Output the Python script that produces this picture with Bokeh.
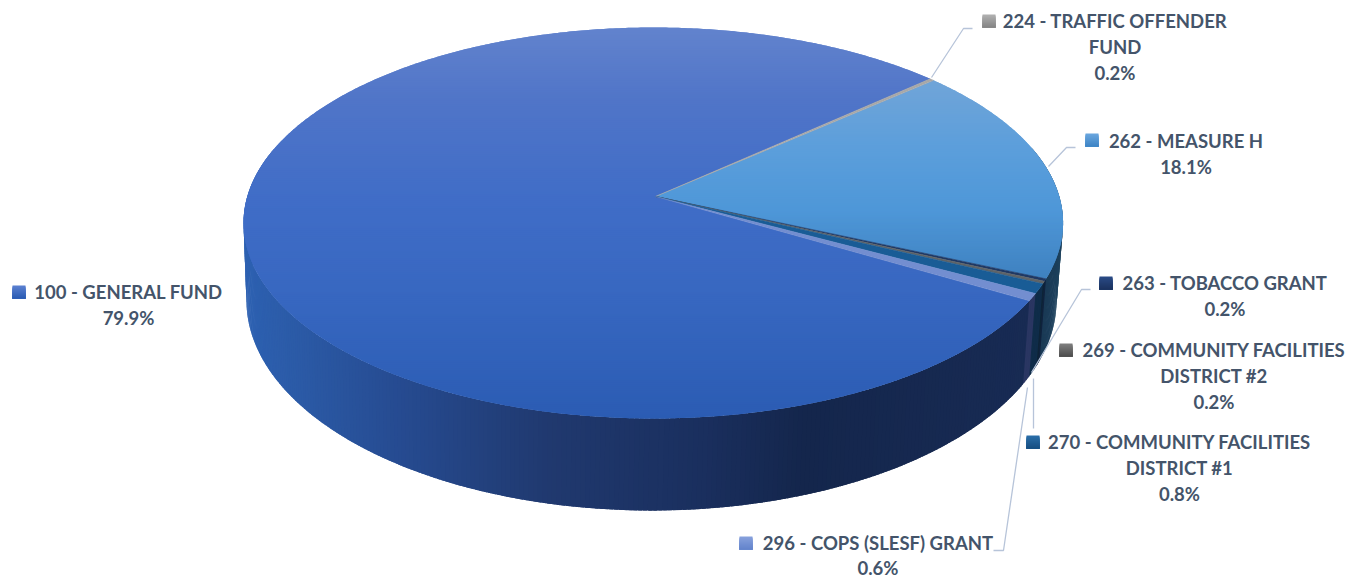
import numpy as np
from bokeh.plotting import figure
from bokeh.models import Range1d, ColumnDataSource
from bokeh.core.properties import value
from bokeh.embed import file_html
from bokeh.resources import INLINE

# ---- data -------------------------------------------------------------
categories = ["100 - GENERAL FUND", "224 - TRAFFIC OFFENDER FUND", "262 - MEASURE H",
              "263 - TOBACCO GRANT", "269 - COMMUNITY FACILITIES DISTRICT #2",
              "270 - COMMUNITY FACILITIES DISTRICT #1", "296 - COPS (SLESF) GRANT"]
shares = [79.9, 0.2, 18.1, 0.2, 0.2, 0.8, 0.6]
first_slice_angle = 120.4

# ---- styles -----------------------------------------------------------
top_stops = [
    [(27, "#6283cd"), (100, "#5075c8"), (200, "#406dc7"), (300, "#3767c0"), (418, "#2b5cb3")],
    [(70, "#a8a8a8"), (300, "#a8a8a8")],
    [(75, "#72a5d8"), (150, "#5b9edb"), (210, "#4e97d8"), (280, "#3e80bf")],
    [(190, "#1f3864"), (290, "#1f3864")],
    [(190, "#5f6468"), (290, "#5f6468")],
    [(190, "#1c5f9c"), (300, "#175a92")],
    [(190, "#7b96d6"), (310, "#6d88cc")],
]
wall_stops = [
    [(242, "#2d61b2"), (300, "#2b5aa6"), (400, "#264b91"), (550, "#20396f"),
     (700, "#1a2f5e"), (800, "#14264c"), (1040, "#182b54")],
    [(925, "#666666"), (940, "#666666")],
    [(1030, "#17344e"), (1048, "#1b3c58"), (1065, "#1f4460")],
    [(1030, "#10233f"), (1060, "#10233f")],
    [(1030, "#0e2438"), (1060, "#0e2438")],
    [(1020, "#0f2c49"), (1060, "#0f2c49")],
    [(1020, "#2a3662"), (1060, "#2a3662")],
]
key_stops = [("#5a80d0", "#2b5cb3"), ("#b0b0b0", "#858585"), ("#6aa6de", "#3f85c6"),
             ("#2a4a85", "#1b3260"), ("#7f7f7f", "#4f4f4f"), ("#2a6ea8", "#174f82"),
             ("#86a0dc", "#6484cc")]
keys = [(12, 285), (982, 14), (1085, 133), (1099, 276), (1059, 343), (1026, 435), (739, 536)]
text_rows = [
    ("100 - GENERAL FUND", 128, 291), ("79.9%", 128, 317),
    ("224 - TRAFFIC OFFENDER", 1114.5, 20), ("FUND", 1114.5, 46), ("0.2%", 1114.5, 72),
    ("262 - MEASURE H", 1185.5, 140), ("18.1%", 1185.5, 166),
    ("263 - TOBACCO GRANT", 1224.5, 282), ("0.2%", 1224.5, 308),
    ("269 - COMMUNITY FACILITIES", 1213.5, 349), ("DISTRICT #2", 1213.5, 375), ("0.2%", 1213.5, 401),
    ("270 - COMMUNITY FACILITIES", 1179, 441), ("DISTRICT #1", 1179, 467), ("0.8%", 1179, 493),
    ("296 - COPS (SLESF) GRANT", 877.5, 542), ("0.6%", 877.5, 567),
]
leaders = [
    ([931, 963, 972], [77, 28, 28]),
    ([1048, 1066, 1075], [166, 147, 147]),
    ([1031, 1081, 1090], [372, 289, 289]),
    ([1033, 1033], [378, 428]),
    ([1027, 1003, 993], [387, 550, 550]),
]
LEADER = "#b7c4d9"
TEXT = "#44546a"

# ---- projection of the tilted disc ------------------------------------
K = 0.1355
APEX = (655.0, 196.0)
def top_rim(a):
    u, v = np.sin(a), -np.cos(a)
    d = 1 - K * v
    return 652.8 + 406 * u / d, 196 + 191.9 * v / d
def bottom_rim(a):
    u, v = np.sin(a), -np.cos(a)
    d = 1 - K * v
    return 651 + 401.3 * u / d, 271.5 + 206.2 * v / d

def rgb(h):
    return [int(h[i:i + 2], 16) for i in (1, 3, 5)]
def ramp(stops, t):
    xs = [s[0] for s in stops]
    cs = np.array([rgb(s[1]) for s in stops], float)
    c = [np.interp(t, xs, cs[:, i]) for i in range(3)]
    return "#%02x%02x%02x" % tuple(int(round(k)) for k in c)

def clip_band(poly, y0, y1):
    def clip(pts, keep, cross):
        out = []
        for i in range(len(pts)):
            a, b = pts[i - 1], pts[i]
            if keep(b):
                if not keep(a):
                    out.append(cross(a, b))
                out.append(b)
            elif keep(a):
                out.append(cross(a, b))
        return out
    def at(y):
        def f(a, b):
            t = (y - a[1]) / (b[1] - a[1])
            return (a[0] + t * (b[0] - a[0]), y)
        return f
    pts = clip(poly, lambda p: p[1] >= y0, at(y0))
    if pts:
        pts = clip(pts, lambda p: p[1] <= y1, at(y1))
    return pts

# slice boundaries
edges = [first_slice_angle]
for s in shares:
    edges.append(edges[-1] + s * 3.6)
spans = list(zip(edges[:-1], edges[1:]))

# ---- figure -----------------------------------------------------------
p = figure(width=1362, height=577, output_backend="svg", toolbar_location=None,
           x_range=Range1d(0, 1362), y_range=Range1d(577, 0), min_border=0)
p.axis.visible = False
p.grid.visible = False
p.outline_line_color = None
p.background_fill_color = "#ffffff"

# wall, drawn far to near; each quad runs on under its nearer neighbour
rows = []
for idx, (a0, a1) in enumerate(spans):
    n = max(2, int((a1 - a0) / 0.6))
    grid = np.linspace(a0, a1, n + 1)
    for g0, g1 in zip(grid[:-1], grid[1:]):
        m = ((g0 + g1) / 2) % 360
        if m < 75 or m > 285:
            continue
        if m < 180:
            r0, r1 = np.radians(g0), np.radians(g1 + 0.5)
        else:
            r0, r1 = np.radians(g0 - 0.5), np.radians(g1)
        x0, y0 = top_rim(r0); x1, y1 = top_rim(r1)
        x2, y2 = bottom_rim(r1); x3, y3 = bottom_rim(r0)
        col = ramp(wall_stops[idx], (x0 + x1 + x2 + x3) / 4)
        rows.append((abs(m - 180), [x0, x1, x2, x3], [y0, y1, y2, y3], col))
rows.sort(key=lambda r: -r[0])
wall = ColumnDataSource(dict(x=[r[1] for r in rows], y=[r[2] for r in rows], c=[r[3] for r in rows]))
p.patches("x", "y", source=wall, fill_color="c", line_color=None)

# top face, one gradient band at a time; each band overlaps the next
tx, ty, tc = [], [], []
thin_x, thin_y, thin_c = [], [], []
for idx, (a0, a1) in enumerate(spans):
    n = max(3, int((a1 - a0) / 0.5))
    ang = np.radians(np.linspace(a0, a1, n + 1))
    rx, ry = top_rim(ang)
    poly = [APEX] + list(zip(rx.tolist(), ry.tolist()))
    if shares[idx] < 1:
        thin_x.append([q[0] for q in poly]); thin_y.append([q[1] for q in poly])
        thin_c.append(ramp(top_stops[idx], 260))
        continue
    for yb in range(int(min(ry.min(), 196)) - 2, int(max(ry.max(), 196)) + 2, 2):
        pts = clip_band(poly, yb, yb + 4)
        if len(pts) >= 3:
            tx.append([q[0] for q in pts]); ty.append([q[1] for q in pts])
            tc.append(ramp(top_stops[idx], yb + 1))
top = ColumnDataSource(dict(x=tx, y=ty, c=tc))
p.patches("x", "y", source=top, fill_color="c", line_color=None)
thin = ColumnDataSource(dict(x=thin_x, y=thin_y, c=thin_c))
p.patches("x", "y", source=thin, fill_color="c", line_color="c", line_width=0.5)

# leaders
for lx, ly in leaders:
    p.line(lx, ly, line_color=LEADER, line_width=1.3)

# legend keys
for (kx, ky), (c0, c1) in zip(keys, key_stops):
    for i in range(13):
        p.quad(left=kx, right=kx + 13, top=ky + i, bottom=ky + 13,
               fill_color=ramp([(0, c0), (12, c1)], i), line_color=None)

# labels
p.text([r[1] for r in text_rows], [r[2] for r in text_rows], text=[r[0] for r in text_rows],
       text_font=value("Lato"), text_font_style="bold", text_font_size="18.5px",
       text_color=TEXT, text_align="center", text_baseline="middle")

open("out.html", "w").write(file_html(p, INLINE))
